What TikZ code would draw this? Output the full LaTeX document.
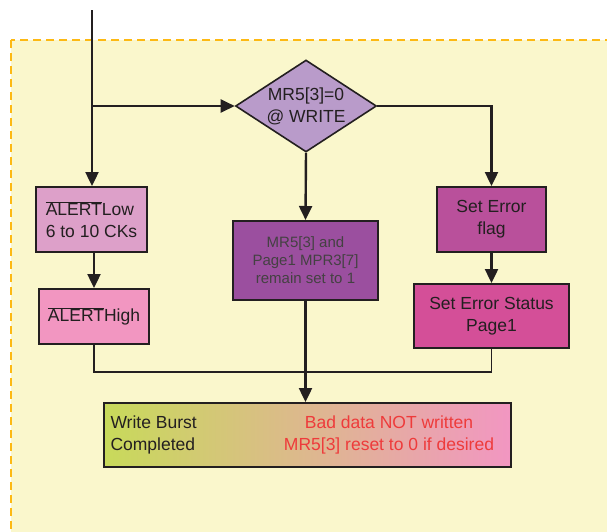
\documentclass[tikz,border=0pt]{standalone}
\usepackage{fontspec}
\setmainfont{Liberation Sans}
\usepackage{tikz}
\usetikzlibrary{positioning,arrows.meta,shapes.geometric}

\definecolor{zonefill}{HTML}{FAF7CC}
\definecolor{zonedash}{HTML}{FDB913}
\definecolor{linedark}{HTML}{231F20}
\definecolor{diafill}{HTML}{B99BCA}
\definecolor{lowfill}{HTML}{DDA0C9}
\definecolor{highfill}{HTML}{F296C1}
\definecolor{midfill}{HTML}{9B4F9F}
\definecolor{flagfill}{HTML}{B9509B}
\definecolor{statfill}{HTML}{D44F98}
\definecolor{donegreen}{HTML}{C8DA5A}
\definecolor{donepale}{HTML}{E6E49E}
\definecolor{donepink}{HTML}{F296C2}
\definecolor{redtxt}{HTML}{EE3B3B}

\begin{document}
\begin{tikzpicture}[
  x=1pt, y=-1pt,
  >={Triangle[length=14pt,width=13pt]},
  every node/.style={font=\fontsize{17.5}{22}\selectfont, text=linedark},
  box/.style={draw=linedark, line width=2pt, rectangle, align=center, inner sep=2pt},
  dec/.style={draw=linedark, line width=1.6pt, diamond, aspect=1.53, inner sep=0pt,
              minimum width=141pt, minimum height=92pt, fill=diafill, align=center},
  flow/.style={->, line width=2.4pt, draw=linedark},
  joinline/.style={line width=1.4pt, draw=linedark},
  zone/.style={draw=zonedash, fill=zonefill, line width=2.5pt, dash pattern=on 8pt off 5pt}
]

% ---- Column positions ----
\def\xA{92}      % alert col
\def\xB{306}     % decision col
\def\xC{491.5}   % error col

% ---- Frame ----
\useasboundingbox (0,0) rectangle (607,531);
\begin{scope}
  \clip (0,0) rectangle (607,531);
  \draw[zone] (11,40) rectangle (640,570);
\end{scope}

% ---- Decision ----
\coordinate (entry) at (\xA,10);
\node[dec] (dia) at (\xB,106) {MR5[3]=0\\@ WRITE};

% ---- Alert column ----
\node[box, fill=lowfill, minimum width=111pt, minimum height=65pt, align=left] (alow) at (91.5,219.5)
    {$\overline{\mbox{ALERT}}$Low\\6 to 10 CKs};
\node[box, fill=highfill, minimum width=110pt, minimum height=55pt] (ahigh) at (94,316.5)
    {$\overline{\mbox{ALERT}}$High};

% ---- Middle ----
\node[box, fill=midfill, minimum width=145pt, minimum height=79pt,
      font=\fontsize{15}{18}\selectfont, text=linedark!85] (mid) at (305.5,260.5)
    {MR5[3] and\\Page1 MPR3[7]\\remain set to 1};

% ---- Error column ----
\node[box, fill=flagfill, minimum width=109pt, minimum height=65pt] (flag) at (\xC,219.5)
    {Set Error\\flag};
\node[box, fill=statfill, minimum width=155pt, minimum height=64pt] (stat) at (\xC,316)
    {Set Error Status\\Page1};

% ---- Result ----
\node[box, minimum width=407pt, minimum height=64pt,
      left color=donegreen, middle color=donepale, right color=donepink] (done) at (307.5,435) {};
\node[anchor=west, align=left] (wbtxt) at ([xshift=4pt]done.west) {Write Burst\\Completed};
\node[text=redtxt, align=center] (badtxt) at (389,435)
    {Bad data NOT written\\MR5[3] reset to 0 if desired};

% ---- Arrows ----
\coordinate (branch) at (\xA,106);
\coordinate (merge) at (305.5,372);
\draw[flow] (entry) -- (alow.north -| entry);
\draw[flow] (branch) -- (dia.west);
\draw[flow] (dia.east) -| (flag.north);
\draw[flow] (dia.south) -- (mid.north);
\draw[flow] (ahigh.north |- alow.south) -- (ahigh.north);
\draw[flow] (flag.south) -- (stat.north);
\draw[joinline] (ahigh.south) |- (merge) -| (stat.south);
\draw[flow] (mid.south) -- (done.north -| mid.south);

\end{tikzpicture}
\end{document}
